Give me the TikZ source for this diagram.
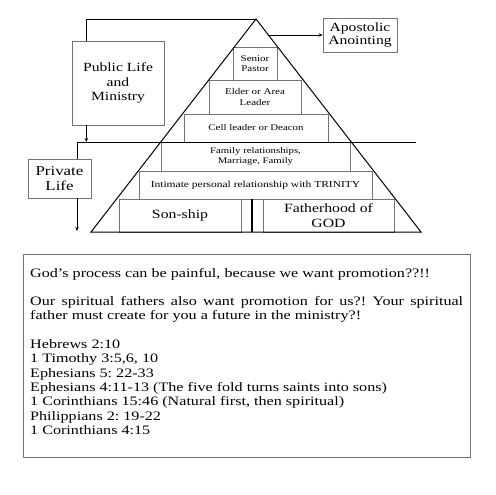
\documentclass[tikz,border=0pt]{standalone}
\usepackage{fontspec}
\setmainfont[FakeStretch=1.25]{Liberation Serif}
\usetikzlibrary{arrows.meta}
\definecolor{boxgray}{gray}{0.45}
\frenchspacing
\begin{document}
\begin{tikzpicture}[x=1pt,y=-1pt,
  gbox/.style={draw=boxgray, line width=0.8pt, rectangle, inner sep=0pt, align=center},
  conn/.style={draw=black, line width=0.7pt},
  arr/.style={conn, -{Stealth[length=4pt,width=3.5pt]}}]
\useasboundingbox (0,0) rectangle (495,495);
\fill[white] (0,0) rectangle (495,495);

% side boxes
\node[gbox, minimum width=92pt, minimum height=84pt, font=\fontsize{12.5}{14.3}\selectfont] (pub) at (118,83) {Public Life\\and\\Ministry};
\node[gbox, minimum width=74pt, minimum height=34pt, font=\fontsize{12.5}{12.7}\selectfont] (apo) at (360,35) {Apostolic\\Anointing};
\node[gbox, minimum width=63pt, minimum height=39pt, font=\fontsize{13.5}{15}\selectfont] (priv) at (59.5,178.5) {Private\\Life};

% pyramid layers
\node[gbox, minimum width=44pt, minimum height=33pt, font=\fontsize{8.8}{10.5}\selectfont] (sen) at (255,63.5) {Senior\\Pastor};
\node[gbox, minimum width=92pt, minimum height=34pt, font=\fontsize{8.8}{10.7}\selectfont] (eld) at (255,97) {Elder or Area\\Leader};
\node[gbox, minimum width=144pt, minimum height=28pt, font=\fontsize{8.7}{10}\selectfont] (cell) at (256,128) {Cell leader or Deacon};
\node[gbox, minimum width=189pt, minimum height=29pt, font=\fontsize{8.6}{10}\selectfont] (fam) at (255.5,156.5) {Family relationships,\\Marriage, Family};
\node[gbox, minimum width=233pt, minimum height=28pt, font=\fontsize{9.2}{10}\selectfont] (int) at (255.5,185) {Intimate personal relationship with TRINITY};
\node[gbox, minimum width=122pt, minimum height=33pt, font=\fontsize{12.6}{14.3}\selectfont] (son) at (180,215.5) {Son-ship};
\node[gbox, minimum width=131pt, minimum height=33pt, font=\fontsize{12.6}{14.3}\selectfont] (fat) at (328.5,215.5) {Fatherhood of\\GOD};
\coordinate (dt) at (252,199);
\coordinate (db) at (252,232);
\draw[line width=1.2pt] (dt) -- (db);

% triangle
\coordinate (apex) at (256,19);
\coordinate (bl) at (91,232);
\coordinate (br) at (421,232);
\draw[line width=1pt, line join=miter] (apex) -- (bl) -- (br) -- cycle;

% connectors
\coordinate (hl) at (77,142);
\coordinate (hr) at (416,142);
\draw[conn] (hr) -- (hl) -- (hl |- priv.north);
\coordinate (pa) at ([xshift=14.7pt]pub.south west);
\draw[arr] (pa) -- (pa |- hl);
\coordinate (pt) at ([xshift=15pt]pub.north west);
\draw[conn] (pt) |- (apex);
\coordinate (ae) at (268,35);
\draw[arr] (ae) -- (apo.west);
\coordinate (pe) at (77,231);
\draw[arr] (hl |- priv.south) -- (pe);

% text box
\node[draw=boxgray, line width=0.8pt, minimum width=447pt, minimum height=203pt, inner sep=0pt] (tb) at (246.5,355.5) {};
\node[anchor=base west, inner sep=0pt, text width=433pt, align=justify, font=\fontsize{12.9}{14.3}\selectfont] (txt) at (30,277) {God’s process can be painful, because we want promotion??!!\\[14.3pt]
Our spiritual fathers also want promotion for us?! Your spiritual\linebreak father must create for you a future in the ministry?!\\[14.3pt]
Hebrews 2:10\\
1 Timothy 3:5,6, 10\\
Ephesians 5: 22-33\\
Ephesians 4:11-13 (The five fold turns saints into sons)\\
1 Corinthians 15:46 (Natural first, then spiritual)\\
Philippians 2: 19-22\\
1 Corinthians 4:15};
\end{tikzpicture}
\end{document}
